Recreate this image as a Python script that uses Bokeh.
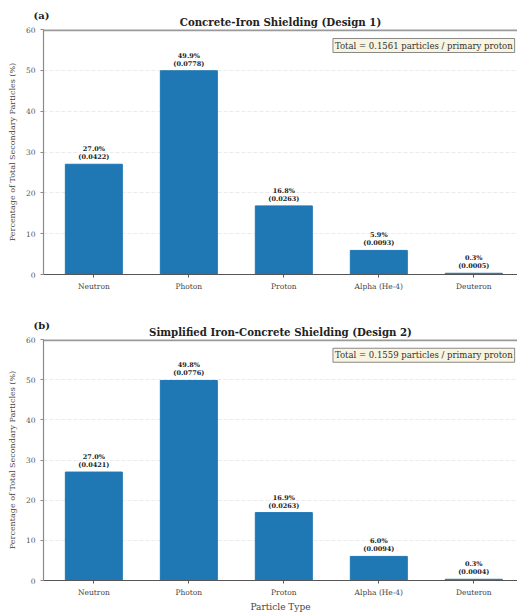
from bokeh.plotting import figure
from bokeh.layouts import column
from bokeh.models import Range1d, Label, FixedTicker, ColumnDataSource, Title
from bokeh.embed import file_html
from bokeh.resources import INLINE
from bokeh.core.properties import value

particles = ["Neutron", "Photon", "Proton", "Alpha (He-4)", "Deuteron"]
pct_d1 = [27.0, 49.9, 16.8, 5.9, 0.3]
yield_d1 = [0.0422, 0.0778, 0.0263, 0.0093, 0.0005]
total_d1 = 0.1561
pct_d2 = [27.0, 49.8, 16.9, 6.0, 0.3]
yield_d2 = [0.0421, 0.0776, 0.0263, 0.0094, 0.0004]
total_d2 = 0.1559
titles = ["Concrete-Iron Shielding (Design 1)", "Simplified Iron-Concrete Shielding (Design 2)"]
tags = ["(a)", "(b)"]
yticks = [0, 10, 20, 30, 40, 50, 60]

SERIF = "DejaVu Serif"
BAR = "#1f77b4"
X0, X1 = -0.53, 4.46
PX_PER_UNIT = 245 / 60.0


def make_panel(pct, yld, total, title, tag, height, top, bottom, xlabel):
    xs = list(range(len(particles)))
    ymax = yticks[-1]
    p = figure(width=517, height=height, output_backend="svg", toolbar_location=None,
               x_range=Range1d(X0, X1), y_range=Range1d(0, ymax),
               min_border_left=43, min_border_right=0, min_border_top=top,
               min_border_bottom=bottom)
    p.title = None
    p.add_layout(Title(text=title, align="center", text_font=SERIF,
                       text_font_style="bold", text_font_size="10.2px",
                       text_color="#222222", standoff=4), "above")
    p.add_layout(Title(text=tag, align="left", offset=-10, text_font=SERIF,
                       text_font_style="bold", text_font_size="10px",
                       text_color="#222222", standoff=-19), "above")
    p.outline_line_color = None
    p.background_fill_color = "white"
    p.border_fill_color = "white"

    p.xgrid.grid_line_color = None
    p.ygrid.grid_line_color = "#dddddd"
    p.ygrid.grid_line_alpha = 0.6
    p.ygrid.grid_line_dash = "4 2"
    p.ygrid.ticker = FixedTicker(ticks=yticks[1:-1])

    src = ColumnDataSource(dict(x=xs, top=pct,
                                l1=[f"{v:.1f}%" for v in pct],
                                l2=[f"({v:.4f})" for v in yld]))
    p.vbar(x="x", top="top", width=0.6, bottom=0, source=src,
           fill_color=BAR, line_color=BAR)
    p.text(x="x", y="top", text="l2", source=src, text_align="center",
           text_baseline="bottom", y_offset=-3, text_font=value(SERIF),
           text_font_style="bold", text_font_size="6.5px", text_color="#222222")
    p.text(x="x", y="top", text="l1", source=src, text_align="center",
           text_baseline="bottom", y_offset=-11, text_font=value(SERIF),
           text_font_style="bold", text_font_size="6.5px", text_color="#222222")

    # top spine (right spine falls outside the picture)
    p.segment(x0=[X0], y0=[ymax], x1=[X1], y1=[ymax], line_color="#9a9a9a", line_width=3.5)

    p.yaxis.ticker = FixedTicker(ticks=yticks)
    p.yaxis.axis_label = "Percentage of Total Secondary Particles (%)"
    p.yaxis.axis_label_text_font = SERIF
    p.yaxis.axis_label_text_font_style = "normal"
    p.yaxis.axis_label_text_font_size = "8px"
    p.yaxis.axis_label_text_color = "#444444"
    p.yaxis.axis_label_standoff = 6
    p.yaxis.major_label_text_font = SERIF
    p.yaxis.major_label_text_font_size = "7.5px"
    p.yaxis.major_label_text_color = "#555555"
    p.yaxis.major_label_standoff = 5
    p.yaxis.major_tick_out = 3
    p.yaxis.major_tick_in = 0
    p.yaxis.minor_tick_line_color = None
    p.yaxis.axis_line_color = "#8a8a8a"
    p.yaxis.axis_line_width = 1.2
    p.yaxis.major_tick_line_color = "#8a8a8a"

    p.xaxis.ticker = FixedTicker(ticks=xs)
    p.xaxis.major_label_overrides = {i: n for i, n in zip(xs, particles)}
    p.xaxis.major_label_text_font = SERIF
    p.xaxis.major_label_text_font_size = "7.5px"
    p.xaxis.major_label_text_color = "#444444"
    p.xaxis.major_label_standoff = 4
    p.xaxis.major_tick_out = 3
    p.xaxis.major_tick_in = 0
    p.xaxis.minor_tick_line_color = None
    p.xaxis.axis_line_color = "#555555"
    p.xaxis.axis_line_width = 1.2
    p.xaxis.major_tick_line_color = "#555555"
    if xlabel:
        p.xaxis.axis_label = xlabel
        p.xaxis.axis_label_text_font = SERIF
        p.xaxis.axis_label_text_font_style = "normal"
        p.xaxis.axis_label_text_font_size = "9px"
        p.xaxis.axis_label_text_color = "#444444"
        p.xaxis.axis_label_standoff = 2

    p.add_layout(Label(x=4.43, y=ymax - 16 / PX_PER_UNIT,
                       text=f"Total = {total:.4f} particles / primary proton",
                       text_font=SERIF, text_font_size="8.5px", text_align="right",
                       text_baseline="middle", text_color="#333333",
                       background_fill_color="#f7f3dc", background_fill_alpha=0.9,
                       border_line_color="#888888", border_line_width=1,
                       padding=2))
    return p


p1 = make_panel(pct_d1, yield_d1, total_d1, titles[0], tags[0], 300, 29, 26, None)
p2 = make_panel(pct_d2, yield_d2, total_d2, titles[1], tags[1], 314, 39, 30, "Particle Type")
layout = column(p1, p2, spacing=0)
open("out.html", "w").write(file_html(layout, INLINE))
